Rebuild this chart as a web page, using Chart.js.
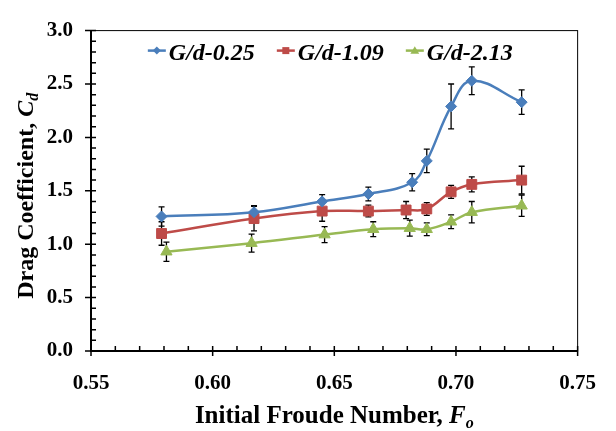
<!DOCTYPE html>
<html>
<head>
<meta charset="utf-8">
<title>Drag Coefficient vs Initial Froude Number</title>
<script src="https://cdn.jsdelivr.net/npm/chart.js@4.4.1/dist/chart.umd.min.js"></script>
<style>
    html, body { margin: 0; padding: 0; background: #fff; }
    #dragChart { display: block; }
</style>
</head>
<body>
<canvas id="dragChart" width="616" height="431"></canvas>
<script>
// series names
const seriesLabels = ['G/d-0.25', 'G/d-1.09', 'G/d-2.13'];

// G/d = 0.25
const froude025 = [0.579, 0.617, 0.645, 0.664, 0.682, 0.688, 0.698, 0.7065, 0.727];
const cd025 = [1.26, 1.30, 1.40, 1.47, 1.58, 1.78, 2.29, 2.53, 2.33];
const err025 = [0.09, 0.06, 0.065, 0.065, 0.08, 0.11, 0.21, 0.13, 0.115];

// G/d = 1.09
const froude109 = [0.579, 0.617, 0.645, 0.664, 0.6795, 0.688, 0.698, 0.7065, 0.727];
const cd109 = [1.10, 1.24, 1.31, 1.31, 1.32, 1.33, 1.49, 1.56, 1.60];
const err109 = [0.11, 0.115, 0.095, 0.055, 0.08, 0.06, 0.06, 0.07, 0.13];

// G/d = 2.13
const froude213 = [0.581, 0.616, 0.646, 0.666, 0.681, 0.688, 0.698, 0.7065, 0.727];
const cd213 = [0.93, 1.01, 1.09, 1.14, 1.15, 1.14, 1.21, 1.30, 1.36];
const err213 = [0.09, 0.085, 0.075, 0.07, 0.075, 0.06, 0.065, 0.10, 0.10];

// axis ticks
const xTickValues = [0.55, 0.60, 0.65, 0.70, 0.75];
const yTickValues = [0.0, 0.5, 1.0, 1.5, 2.0, 2.5, 3.0];
const xMinorStep = 0.01;
const yMinorStep = 0.1;

const serif = "'Liberation Serif', 'Times New Roman', serif";

function toPoints(xs, ys) {
    return xs.map((x, i) => ({ x: x, y: ys[i] }));
}

// small markers for the legend
function drawMarker(ctx, style, x, y, color, size) {
    ctx.fillStyle = color;
    ctx.beginPath();
    if (style === 'rectRot') {
        ctx.moveTo(x - size, y);
        ctx.lineTo(x, y - size);
        ctx.lineTo(x + size, y);
        ctx.lineTo(x, y + size);
    } else if (style === 'rect') {
        ctx.rect(x - size, y - size, size * 2, size * 2);
    } else {
        ctx.moveTo(x, y - size * 1.1);
        ctx.lineTo(x + size * 1.1, y + size * 0.8);
        ctx.lineTo(x - size * 1.1, y + size * 0.8);
    }
    ctx.closePath();
    ctx.fill();
}

// bold text with italic symbol + subscript
function drawRichText(ctx, parts, cx, cy, vertical) {
    ctx.save();
    ctx.translate(cx, cy);
    if (vertical) ctx.rotate(-Math.PI / 2);
    ctx.textBaseline = 'alphabetic';
    ctx.textAlign = 'left';
    ctx.fillStyle = '#000';
    let total = 0;
    parts.forEach(p => {
        ctx.font = p.font;
        p.w = ctx.measureText(p.text).width;
        total += p.w;
    });
    let x = -total / 2;
    parts.forEach(p => {
        ctx.font = p.font;
        ctx.fillText(p.text, x, p.dy || 0);
        x += p.w;
    });
    ctx.restore();
}

const errorBarPlugin = {
    id: 'errorBars',
    beforeDatasetsDraw(chart) {
        const { ctx } = chart;
        const xs = chart.scales.x;
        const ys = chart.scales.y;
        ctx.save();
        ctx.strokeStyle = '#000';
        ctx.lineWidth = 1.3;
        chart.data.datasets.forEach(ds => {
            ds.data.forEach((pt, i) => {
                const e = ds.errorBars[i];
                const px = xs.getPixelForValue(pt.x);
                const top = ys.getPixelForValue(pt.y + e);
                const bot = ys.getPixelForValue(pt.y - e);
                ctx.beginPath();
                ctx.moveTo(px, top);
                ctx.lineTo(px, bot);
                ctx.moveTo(px - 3, top);
                ctx.lineTo(px + 3, top);
                ctx.moveTo(px - 3, bot);
                ctx.lineTo(px + 3, bot);
                ctx.stroke();
            });
        });
        ctx.restore();
    }
};

const frameAndTicksPlugin = {
    id: 'frameTicks',
    afterDraw(chart) {
        const { ctx, chartArea } = chart;
        const xs = chart.scales.x;
        const ys = chart.scales.y;
        const { left, right, top, bottom } = chartArea;
        ctx.save();
        ctx.strokeStyle = '#000';

        // thin box round the plot
        ctx.lineWidth = 1;
        ctx.strokeRect(left, top, right - left, bottom - top);

        // axis lines
        ctx.lineWidth = 2;
        ctx.beginPath();
        ctx.moveTo(left, top);
        ctx.lineTo(left, bottom);
        ctx.lineTo(right, bottom);
        ctx.stroke();

        ctx.lineWidth = 1.5;
        ctx.beginPath();
        const nx = Math.round((xs.max - xs.min) / xMinorStep);
        for (let k = 0; k <= nx; k++) {
            const px = xs.getPixelForValue(xs.min + k * xMinorStep);
            const major = k % 5 === 0;
            ctx.moveTo(px, major ? bottom + 5 : bottom);
            ctx.lineTo(px, bottom - 5);
        }
        const ny = Math.round((ys.max - ys.min) / yMinorStep);
        for (let k = 0; k <= ny; k++) {
            const py = ys.getPixelForValue(ys.min + k * yMinorStep);
            const major = k % 5 === 0;
            ctx.moveTo(major ? left - 6 : left, py);
            ctx.lineTo(left + 5, py);
        }
        ctx.stroke();
        ctx.restore();

        // axis titles
        drawRichText(ctx, [
            { text: 'Initial Froude Number, ', font: `bold 25px ${serif}` },
            { text: 'F', font: `italic bold 25px ${serif}` },
            { text: 'o', font: `italic bold 16px ${serif}`, dy: 5 }
        ], (left + right) / 2, bottom + 72, false);

        drawRichText(ctx, [
            { text: 'Drag Coefficient, ', font: `bold 24px ${serif}` },
            { text: 'C', font: `italic bold 24px ${serif}` },
            { text: 'd', font: `italic bold 16px ${serif}`, dy: 5 }
        ], left - 58, (top + bottom) / 2 + 5, true);
    }
};

const insideLegendPlugin = {
    id: 'insideLegend',
    afterDraw(chart) {
        const { ctx, chartArea } = chart;
        const lineLen = 18, gapText = 3, gapItem = 22;
        ctx.save();
        ctx.font = `italic bold 24px ${serif}`;
        const widths = chart.data.datasets.map(ds => ctx.measureText(ds.label).width);
        const total = widths.reduce((a, w) => a + lineLen + gapText + w, 0) + gapItem * (widths.length - 1);
        let x = (chartArea.left + chartArea.right) / 2 - 4 - total / 2;
        const y = chartArea.top + 22;
        chart.data.datasets.forEach((ds, i) => {
            ctx.strokeStyle = ds.borderColor;
            ctx.lineWidth = 2.5;
            ctx.beginPath();
            ctx.moveTo(x, y - 2);
            ctx.lineTo(x + lineLen, y - 2);
            ctx.stroke();
            drawMarker(ctx, ds.pointStyle, x + lineLen / 2, y - 2, ds.borderColor, ds.pointStyle === 'rect' ? 3.5 : 4);
            ctx.fillStyle = '#000';
            ctx.textBaseline = 'middle';
            ctx.textAlign = 'left';
            ctx.fillText(ds.label, x + lineLen + gapText, y + 1);
            x += lineLen + gapText + widths[i] + gapItem;
        });
        ctx.restore();
    }
};

const ctx = document.getElementById('dragChart').getContext('2d');
const dragChart = new Chart(ctx, {
    type: 'scatter',
    data: {
        datasets: [{
            label: seriesLabels[0],
            data: toPoints(froude025, cd025),
            errorBars: err025,
            borderColor: '#4A7EBB',
            backgroundColor: '#4A7EBB',
            pointStyle: 'rectRot',
            pointRadius: 5.5,
            pointBorderWidth: 1
        }, {
            label: seriesLabels[1],
            data: toPoints(froude109, cd109),
            errorBars: err109,
            borderColor: '#BE4B48',
            backgroundColor: '#BE4B48',
            pointStyle: 'rect',
            pointRadius: 7,
            pointBorderWidth: 1
        }, {
            label: seriesLabels[2],
            data: toPoints(froude213, cd213),
            errorBars: err213,
            borderColor: '#98B954',
            backgroundColor: '#98B954',
            pointStyle: 'triangle',
            pointRadius: 6.5,
            pointBorderWidth: 1
        }]
    },
    options: {
        responsive: false,
        animation: false,
        devicePixelRatio: 1,
        events: [],
        showLine: true,
        elements: {
            line: { borderWidth: 2.5, tension: 0.4, fill: false }
        },
        layout: {
            padding: { top: 11, right: 32, left: 0, bottom: 0 }
        },
        scales: {
            x: {
                type: 'linear',
                min: 0.55,
                max: 0.75,
                afterBuildTicks: s => { s.ticks = xTickValues.map(v => ({ value: v })); },
                afterFit: s => { s.height = 80; },
                grid: { display: false, drawTicks: false },
                border: { display: false },
                ticks: {
                    padding: 20,
                    color: '#000',
                    font: { family: serif, size: 21, weight: 'bold' },
                    callback: v => Number(v).toFixed(2)
                }
            },
            y: {
                type: 'linear',
                min: 0,
                max: 3,
                afterBuildTicks: s => { s.ticks = yTickValues.map(v => ({ value: v })); },
                afterFit: s => { s.width = 91; },
                grid: { display: false, drawTicks: false },
                border: { display: false },
                ticks: {
                    padding: 18,
                    color: '#000',
                    font: { family: serif, size: 21, weight: 'bold' },
                    callback: v => Number(v).toFixed(1)
                }
            }
        },
        plugins: {
            legend: { display: false },
            tooltip: { enabled: false }
        }
    },
    plugins: [errorBarPlugin, frameAndTicksPlugin, insideLegendPlugin]
});
</script>
</body>
</html>
